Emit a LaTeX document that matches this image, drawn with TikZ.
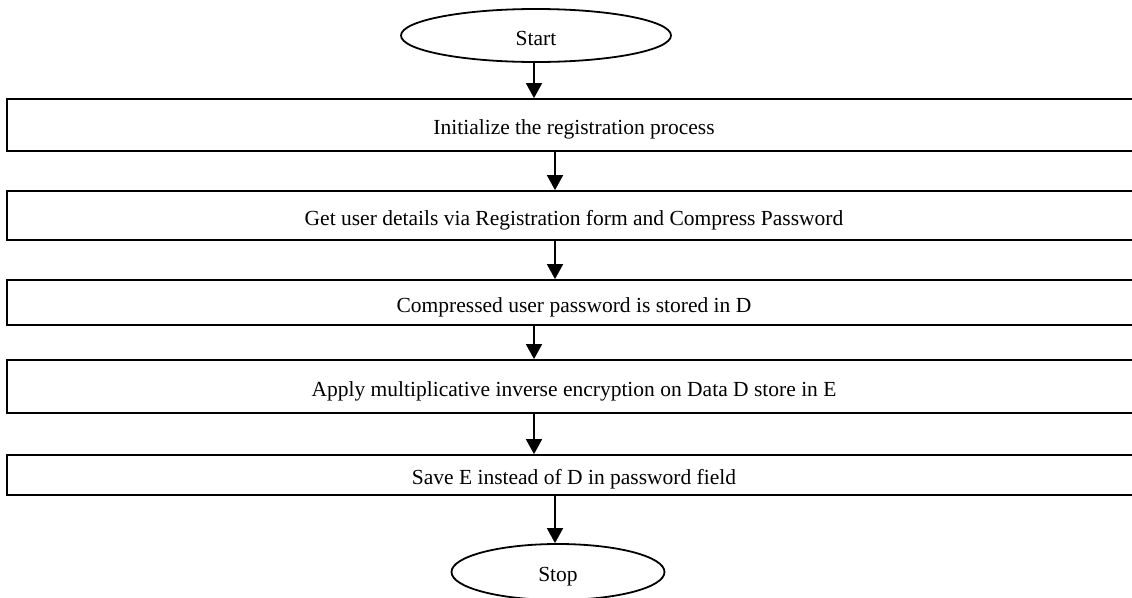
\documentclass[tikz,border=0pt]{standalone}
\usepackage{fontspec}
\setmainfont{Liberation Serif}
\usetikzlibrary{arrows.meta,shapes.geometric}
\begin{document}
\begin{tikzpicture}[x=1pt,y=-1pt,
  every node/.style={font=\fontsize{21.5}{24}\selectfont,text height=19pt,text depth=0pt},
  stepbox/.style={draw,line width=1.8pt,minimum width=1134pt,inner sep=0pt},
  term/.style={draw,ellipse,line width=1.8pt,inner sep=0pt},
  arr/.style={line width=1.8pt,-{Triangle[length=15pt,width=16pt]}}]
\useasboundingbox (0,0) rectangle (1132,597);
% terminals
\node[term,minimum width=270pt,minimum height=53pt] (start) at (536,35.5) {Start};
\node[term,minimum width=213pt,minimum height=56pt] (stop) at (558,572) {Stop};
% process steps
\node[stepbox,minimum height=52pt] (b1) at (574,125) {Initialize the registration process};
\node[stepbox,minimum height=49pt] (b2) at (574,215.5) {Get user details via Registration form and Compress Password};
\node[stepbox,minimum height=45pt] (b3) at (574,302.5) {Compressed user password is stored in D};
\node[stepbox,minimum height=53pt] (b4) at (574,386.5) {Apply multiplicative inverse encryption on Data D store in E};
\node[stepbox,minimum height=40pt] (b5) at (574,475) {Save E instead of D in password field};
% connectors
\draw[arr] ([xshift=-2pt]start.south) -- ([xshift=-2pt]start.south |- b1.north);
\draw[arr] ([xshift=-19pt]b1.south) -- ([xshift=-19pt]b2.north);
\draw[arr] ([xshift=-19pt]b2.south) -- ([xshift=-19pt]b3.north);
\draw[arr] ([xshift=-40pt]b3.south) -- ([xshift=-40pt]b4.north);
\draw[arr] ([xshift=-40pt]b4.south) -- ([xshift=-40pt]b5.north);
\draw[arr] ([xshift=-19pt]b5.south) -- ([xshift=-19pt]b5.south |- stop.north);
\end{tikzpicture}
\end{document}
